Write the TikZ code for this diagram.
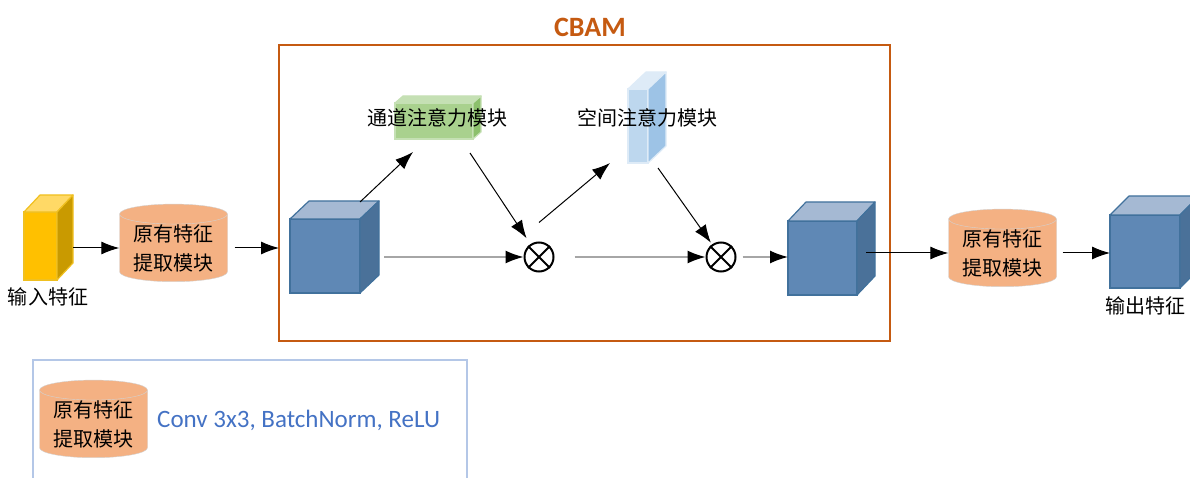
\documentclass[tikz,border=0pt]{standalone}
\usepackage{fontspec}
\setmainfont{Carlito}
\newfontfamily\cjk{Noto Sans CJK SC}
\usetikzlibrary{arrows.meta,shapes.geometric}

\definecolor{cbamorange}{HTML}{C55A11}
\definecolor{featorange}{HTML}{F4B183}
\definecolor{cubefront}{HTML}{5F88B5}
\definecolor{cubetop}{HTML}{A5B9D3}
\definecolor{cubeside}{HTML}{4A7199}
\definecolor{cubeedge}{HTML}{41719C}
\definecolor{inpfront}{HTML}{FFC000}
\definecolor{inptop}{HTML}{FFD966}
\definecolor{inpside}{HTML}{C99A00}
\definecolor{inpedge}{HTML}{F0C020}
\definecolor{camfront}{HTML}{A9D18E}
\definecolor{camtop}{HTML}{C5E0B4}
\definecolor{camside}{HTML}{8CC06C}
\definecolor{samfront}{HTML}{BDD7EE}
\definecolor{samtop}{HTML}{DEEBF7}
\definecolor{samside}{HTML}{9DC3E6}
\definecolor{arrgrey}{HTML}{A6A6A6}
\definecolor{legblue}{HTML}{B4C7E7}
\definecolor{txtblue}{HTML}{4472C4}

% top and side faces behind a front-face node
\newcommand{\addfaces}[6]{% node, dx, dy, top, side, edge
  \filldraw[fill=#4, draw=#6, line width=1.2pt, line join=round]
    (#1.north west) -- ++(#2,-#3) -- ([shift={(#2,-#3)}]#1.north east)
    -- (#1.north east) -- cycle;
  \filldraw[fill=#5, draw=#6, line width=1.2pt, line join=round]
    (#1.north east) -- ++(#2,-#3) -- ([shift={(#2,-#3)}]#1.south east)
    -- (#1.south east) -- cycle;
}

\begin{document}
\begin{tikzpicture}[x=1pt, y=-1pt,
    face/.style={draw=#1, line width=1.2pt, outer sep=0pt, inner sep=0pt},
    cyl/.style={cylinder, shape border rotate=90, aspect=0.25, draw=gray!35,
      fill=featorange, minimum width=108pt, minimum height=70pt, inner sep=0pt,
      align=center, font=\cjk\fontsize{20}{29}\selectfont},
    arr/.style={-{Latex[length=18pt, width=13pt]}, line width=1pt},
    greyarr/.style={-{Latex[length=18pt, width=13pt, color=black]},
      draw=arrgrey, line width=1.5pt},
    mult/.style={circle, draw, line width=2pt, minimum size=29pt, inner sep=0pt},
    lbl/.style={font=\cjk\fontsize{20}{24}\selectfont, inner sep=0pt},
  ]
  \useasboundingbox (0,0) rectangle (1190,478);

  % input
  \node[face=inpedge, fill=inpfront, minimum width=33pt, minimum height=68pt]
    (inp) at (40.5,246) {};
  \addfaces{inp}{16}{17}{inptop}{inpside}{inpedge}
  \node[lbl] (inplbl) at (48,297) {输入特征};

  \node[cyl] (orig1) at (173.5,248) {原有特征\\提取模块};
  \draw[arr, shorten <=16pt] (orig1.west -| inp.east) -- (orig1.west);

  % CBAM block
  \node[draw=cbamorange, line width=2pt, outer sep=0pt,
    minimum width=611pt, minimum height=296pt] (cbam) at (584.5,193) {};
  \node[font=\bfseries\fontsize{28}{30}\selectfont, text=cbamorange]
    (cbamlbl) at (590,27) {CBAM};
  \draw[arr, shorten <=7pt] (orig1.east) -- (orig1.east -| cbam.west);

  \node[face=cubeedge, fill=cubefront, minimum width=70pt,
    minimum height=74pt] (c1) at (325,256) {};
  \addfaces{c1}{19}{18}{cubetop}{cubeside}{cubeedge}

  \node[face=camtop, fill=camfront, minimum width=78pt, minimum height=36pt]
    (cam) at (434,121) {};
  \addfaces{cam}{8}{7}{camtop}{camside}{camtop}
  \node[lbl] (camlbl) at (437,118) {通道注意力模块};

  \node[face=samtop, fill=samfront, minimum width=20pt, minimum height=74pt]
    (sam) at (638,126) {};
  \addfaces{sam}{18}{17}{samtop}{samside}{samtop}
  \node[lbl] (samlbl) at (647,118) {空间注意力模块};

  \node[mult] (m1) at (539,257) {};
  \draw[line width=2pt] (m1.north east) -- (m1.south west)
    (m1.north west) -- (m1.south east);
  \node[mult] (m2) at (721,257) {};
  \draw[line width=2pt] (m2.north east) -- (m2.south west)
    (m2.north west) -- (m2.south east);

  \node[face=cubeedge, fill=cubefront, minimum width=69pt,
    minimum height=74pt] (c2) at (822.5,258) {};
  \addfaces{c2}{18}{19}{cubetop}{cubeside}{cubeedge}

  \draw[arr] ([yshift=17pt]c1.north east) -- ([shift={(18,13)}]cam.south west);
  \draw[arr, shorten >=7pt] ([shift={(-3,14)}]cam.south east) -- (m1);
  \draw[greyarr, shorten <=24pt] (m1.west -| c1.east) -- (m1.west);
  \draw[arr] ([yshift=19pt]m1.north) -- ([xshift=-18pt]sam.south west);
  \draw[arr, shorten >=2pt] ([shift={(10,5)}]sam.south east) -- (m2);
  \draw[greyarr, shorten <=20pt] (m1.east) -- (m2.west);
  \draw[greyarr, shorten <=6pt] (m2.east) -- (m2.east -| c2.west);

  % output
  \node[cyl] (orig2) at (1002.5,253) {原有特征\\提取模块};
  \draw[arr, shorten <=9pt] (orig2.west -| c2.east) -- (orig2.west);

  \node[face=cubeedge, fill=cubefront, minimum width=70pt,
    minimum height=73pt] (c3) at (1145,251.5) {};
  \addfaces{c3}{19}{19}{cubetop}{cubeside}{cubeedge}
  \draw[arr, shorten <=6pt] (orig2.east) -- (orig2.east -| c3.west);
  \node[lbl] (outlbl) at (1145,306) {输出特征};

  % legend
  \node[draw=legblue, line width=1.5pt, outer sep=0pt, anchor=north west,
    minimum width=434pt, minimum height=150pt] (leg) at (33,360) {};
  \node[cyl, minimum height=74pt] (legcyl) at (93.5,424) {原有特征\\提取模块};
  \node[anchor=west, inner sep=0pt, text=txtblue, font=\fontsize{25}{30}\selectfont]
    (legtxt) at (157,420) {Conv 3x3, BatchNorm, ReLU};
\end{tikzpicture}
\end{document}
